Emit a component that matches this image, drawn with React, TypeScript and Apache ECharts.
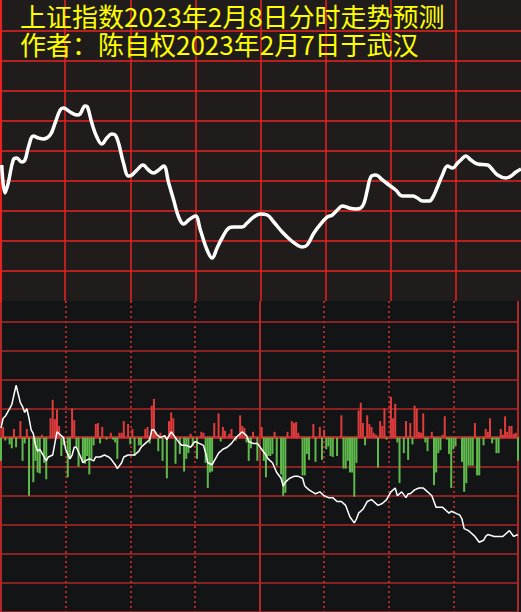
import React, { useEffect, useRef } from "react";
import * as echarts from "echarts";

const titleLines = ["上证指数2023年2月8日分时走势预测", "作者：陈自权2023年2月7日于武汉"];

// Upper panel horizontal grid levels
const topGridLevels = [30, 60, 90, 120, 150, 180, 210, 240, 270];

// Upper panel: predicted curve (minute of session, value)
const topMinutes = [0.8, 2.3, 3.8, 6.1, 7.7, 10, 11.5, 13.1, 15.4, 17.7, 20, 23.1, 25.4, 27.7, 29.2, 32.3, 35.4, 36.9, 39.2, 40.3, 42.3, 44.6, 46.9, 49.2, 51.5, 53.1, 54.6, 56.9, 59.2, 60.8, 63.1, 65.9, 68.4, 70.7, 73.1, 75.4, 77.7, 80, 82.3, 84.6, 86.9, 90, 92.3, 95.4, 97.7, 100, 102.3, 105.4, 107.7, 111.5, 113.8, 116.9, 120, 123.1, 126.1, 130, 133.8, 136.9, 139.2, 141.5, 144.6, 148.5, 150.8, 153.1, 155.4, 157.7, 160.8, 163.8, 166.2, 167.7, 169.2, 170.8, 173.1, 176.2, 179.2, 182.3, 185.4, 190, 192.3, 194.6, 197.7, 199.2, 201.5, 203.8, 206.2, 208.5, 210.8, 212.3, 214.6, 216.9, 220, 224.6, 226.2, 229.2, 233.1, 235.4, 237.7, 240];
const topValues = [136, 108, 118, 141, 143, 139, 141, 154, 165, 163, 162, 166, 178, 191, 193, 189, 186, 187, 195, 194, 178, 164, 157, 163, 167, 166, 158, 138, 125, 126, 131, 136, 131, 128, 131, 135, 118, 101, 84, 77, 81, 85, 71, 51, 43, 53, 63, 73, 74, 74, 78, 84, 87, 86, 79, 69, 61, 56, 54, 56, 68, 79, 84, 86, 91, 95, 93, 92, 93, 98, 111, 124, 126, 121, 116, 111, 105, 105, 103, 100, 100, 103, 114, 126, 135, 133, 138, 141, 145, 141, 137, 136, 133, 126, 123, 125, 129, 132];

// Lower panel: intraday line (minute, value)
const lowerLine: [number, number][] = [
  [0, 10], [1, 20], [2, 22], [4, 30], [5, 34], [6, 44], [7, 54], [8, 45], [9, 36], [10, 32], [11, 26], [12, 30], [13, 20], [14, 8], [15, 4], [16, -8], [17, -14], [18, -12], [20, -20], [21, -24], [22, -20], [24, -18], [25, -6], [26, 6], [27, 4], [29, 0], [30, -12], [32, -22], [33, -18], [34, -10], [35, -10], [37, -20], [38, -26], [39, -24], [41, -22], [43, -24], [44, -20], [46, -20], [48, -18], [50, -20], [51, -22], [53, -28], [54, -32], [56, -26], [57, -20], [59, -18], [60, -18], [62, -18], [64, -14], [65, -10], [67, -6], [69, -2], [70, 8], [71, 8], [72, 4], [74, 0], [76, 2], [77, -2], [79, 6], [81, 0], [83, -6], [84, -8], [86, -8], [88, -10], [90, -4], [92, -6], [94, -8], [95, -16], [96, -26], [98, -28], [99, -24], [101, -16], [103, -12], [105, -10], [107, -6], [109, 0], [111, 4], [112, 6], [114, 2], [115, -4], [117, -6], [119, -6],
  [121, -12], [123, -18], [124, -22], [126, -26], [128, -36], [130, -42], [131, -50], [132, -46], [134, -42], [136, -40], [138, -40], [140, -42], [141, -50], [143, -54], [146, -58], [148, -56], [150, -60], [152, -62], [154, -62], [156, -66], [158, -66], [160, -70], [161, -76], [162, -82], [164, -88], [165, -84], [166, -78], [168, -74], [170, -66], [172, -64], [173, -66], [175, -70], [177, -68], [179, -64], [180, -60], [181, -56], [183, -52], [184, -60], [186, -56], [188, -62], [189, -58], [190, -58], [192, -54], [194, -52], [196, -52], [197, -54], [199, -58], [200, -60], [202, -72], [203, -72], [205, -72], [208, -78], [209, -76], [211, -78], [213, -80], [214, -84], [215, -94], [217, -96], [218, -98], [220, -102], [222, -108], [224, -106], [225, -102], [226, -100], [229, -102], [233, -102], [234, -100], [236, -96], [238, -102], [240, -100],
];

// Lower panel bars (minute, value)
const upBars: [number, number][] = [
  [1, 11], [6, 9], [9, 17], [12, 9], [19, 3], [23, 20], [24, 39], [25, 19], [26, 29], [27, 12], [33, 30], [34, 18], [44, 14], [45, 15], [47, 11], [51, 5], [55, 5], [56, 5], [57, 17], [59, 14], [61, 9], [67, 9], [68, 11], [70, 33], [71, 40], [72, 6], [74, 5], [78, 17], [79, 26], [80, 20], [88, 4], [93, 6], [94, 5], [99, 15], [101, 25], [103, 11], [104, 7], [106, 4], [107, 9], [111, 23], [112, 12], [113, 10], [117, 6],
  [121, 11], [127, 6], [133, 6], [135, 17], [136, 15], [137, 16], [138, 5], [145, 14], [148, 11], [150, 8], [158, 23], [166, 28], [167, 36], [168, 15], [170, 23], [171, 14], [172, 11], [173, 5], [174, 3], [176, 17], [177, 12], [178, 30], [181, 42], [182, 20], [183, 35], [188, 17], [190, 15], [192, 33], [193, 30], [194, 6], [195, 5], [196, 25], [200, 6], [205, 3], [206, 22], [220, 15], [225, 9], [226, 6], [227, 20], [232, 9], [233, 3], [234, 22], [235, 6], [236, 12], [237, 12], [238, 4], [239, 5],
];
const downBars: [number, number][] = [
  [0, -24], [2, -3], [4, -7], [5, -11], [7, -10], [10, -24], [11, -6], [13, -60], [15, -46], [16, -24], [17, -36], [18, -37], [20, -26], [21, -43], [28, -19], [29, -8], [31, -41], [32, -22], [35, -11], [36, -30], [38, -25], [39, -27], [40, -19], [41, -38], [42, -22], [43, -8], [46, -6], [49, -2], [52, -2], [53, -5], [54, -22], [60, -7], [62, -19], [64, -8], [65, -8], [69, -6], [73, -14], [75, -24], [77, -42], [81, -27], [83, -17], [85, -35], [86, -22], [87, -16], [89, -9], [91, -22], [95, -26], [96, -52], [97, -36], [98, -35], [102, -4], [109, -3], [114, -5], [115, -24], [116, -11], [119, -24],
  [122, -24], [123, -41], [124, -19], [125, -19], [126, -17], [128, -29], [130, -38], [131, -60], [132, -57], [140, -39], [141, -39], [142, -17], [143, -23], [146, -25], [149, -23], [151, -12], [152, -9], [153, -19], [154, -20], [156, -19], [159, -32], [160, -32], [161, -24], [162, -36], [163, -36], [164, -61], [165, -26], [169, -8], [175, -31], [179, -2], [184, -5], [185, -47], [187, -16], [189, -23], [191, -7], [197, -5], [198, -14], [201, -49], [202, -36], [203, -16], [204, -13], [207, -2], [208, -17], [209, -52], [210, -12], [211, -9], [214, -25], [215, -56], [216, -47], [217, -29], [218, -29], [219, -29], [221, -39], [222, -39], [224, -8], [228, -6], [229, -2], [230, -16], [231, -16], [240, -24],
];

const TOP_RED = "#e82222";
const LOW_RED = "#b02828";

export default function App() {
  const ref = useRef<HTMLDivElement>(null);
  useEffect(() => {
    document.body.style.margin = "0";
    if (!ref.current) return;
    const chart = echarts.init(ref.current, undefined, { renderer: "svg" });
    const option: any = {
      animation: false,
      backgroundColor: "#131416",
      title: titleLines.map((t, i) => ({
        text: t,
        left: 20,
        top: 2 + i * 28,
        padding: 0,
        z: 10,
        textStyle: {
          color: "#ffff00",
          fontSize: 26,
          lineHeight: 26,
          fontWeight: "normal",
          fontFamily: "Noto Sans CJK SC",
        },
      })),
      grid: [
        { left: 0, right: 0, top: 0, height: 301, show: true, backgroundColor: "#201c1b", borderWidth: 0 },
        { left: 1, width: 517, top: 301, height: 318, show: false },
      ],
      xAxis: [
        {
          gridIndex: 0, type: "value", min: 0, max: 240, interval: 30,
          axisLabel: { show: false }, axisTick: { show: false }, axisLine: { show: false },
          splitLine: { show: true, showMaxLine: false, lineStyle: { color: TOP_RED, width: 1.5 } },
        },
        {
          gridIndex: 1, type: "value", min: 0, max: 240, interval: 30,
          axisLabel: { show: false }, axisTick: { show: false },
          axisLine: { show: true, onZero: true, lineStyle: { color: LOW_RED, width: 3 } },
          splitLine: { show: true, lineStyle: { color: LOW_RED, width: 2, type: [2, 3] } },
        },
        {
          gridIndex: 1, type: "value", min: 0, max: 240, interval: 120,
          axisLabel: { show: false }, axisTick: { show: false }, axisLine: { show: false },
          splitLine: { show: true, lineStyle: { color: LOW_RED, width: 2 } },
        },
      ],
      yAxis: [
        {
          gridIndex: 0, type: "value", min: 0, max: 301, interval: 30,
          axisLabel: { show: false }, axisTick: { show: false },
          axisLine: { show: true, lineStyle: { color: TOP_RED, width: 3 } },
          splitLine: { show: false },
        },
        {
          gridIndex: 1, type: "value", min: -180, max: 141, interval: 30,
          axisLabel: { show: false }, axisTick: { show: false }, axisLine: { show: false },
          splitLine: { show: true, showMaxLine: false, lineStyle: { color: LOW_RED, width: 1.5 } },
        },
      ],
      series: [
        {
          type: "line", xAxisIndex: 0, yAxisIndex: 0, data: [], z: 1, silent: true,
          markLine: {
            silent: true, symbol: ["none", "none"], label: { show: false },
            lineStyle: { color: TOP_RED, width: 1.5, type: "solid", opacity: 1 },
            emphasis: { disabled: true },
            data: topGridLevels.map((v) => ({ yAxis: v })),
          },
        },
        {
          type: "line", xAxisIndex: 0, yAxisIndex: 0, smooth: 0.4, symbol: "none",
          data: topMinutes.map((m, i) => [m, topValues[i]]),
          lineStyle: { color: "#ffffff", width: 3.5 },
          z: 5,
        },
        {
          type: "bar", xAxisIndex: 1, yAxisIndex: 1, barWidth: 2, barGap: "-100%",
          data: upBars, itemStyle: { color: "#e03c3c" }, z: 3,
        },
        {
          type: "bar", xAxisIndex: 1, yAxisIndex: 1, barWidth: 2, barGap: "-100%",
          data: downBars, itemStyle: { color: "#5fba4c" }, z: 3,
        },
        {
          type: "line", xAxisIndex: 1, yAxisIndex: 1, symbol: "none",
          data: lowerLine, lineStyle: { color: "#ffffff", width: 1.5 }, z: 5,
        },
      ],
    };
    chart.setOption(option);
    return () => chart.dispose();
  }, []);
  return <div ref={ref} style={{ width: 521, height: 612 }} />;
}
